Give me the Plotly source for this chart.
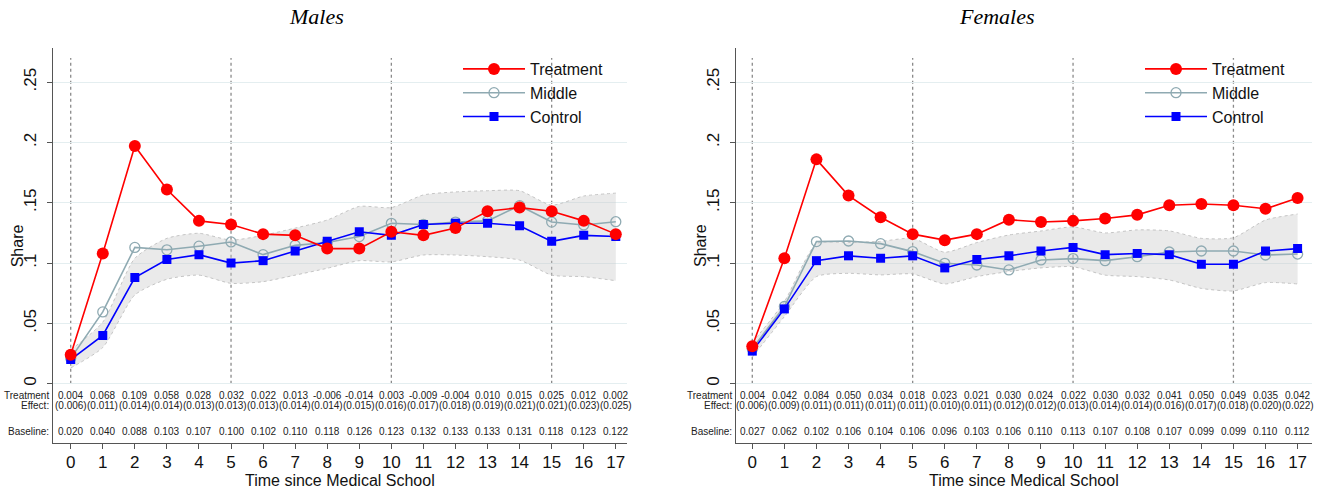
import plotly.graph_objects as go

# ---- data -----------------------------------------------------------------
years = list(range(18))
ref_years = [0, 5, 10, 15]
y_ticks = [0, 0.05, 0.10, 0.15, 0.20, 0.25]
y_tick_text = ["0", ".05", ".1", ".15", ".2", ".25"]

male_effect = [0.004, 0.068, 0.109, 0.058, 0.028, 0.032, 0.022, 0.013, -0.006,
               -0.014, 0.003, -0.009, -0.004, 0.010, 0.015, 0.025, 0.012, 0.002]
male_se = [0.006, 0.011, 0.014, 0.014, 0.013, 0.013, 0.013, 0.014, 0.014,
           0.015, 0.016, 0.017, 0.018, 0.019, 0.021, 0.021, 0.023, 0.025]
male_baseline = [0.020, 0.040, 0.088, 0.103, 0.107, 0.100, 0.102, 0.110, 0.118,
                 0.126, 0.123, 0.132, 0.133, 0.133, 0.131, 0.118, 0.123, 0.122]
male_middle = [0.021, 0.0595, 0.113, 0.111, 0.114, 0.1175, 0.107, 0.1147, 0.117,
               0.122, 0.133, 0.132, 0.134, 0.135, 0.1476, 0.134, 0.1316, 0.1343]
male_band_hi = [0.028, 0.051, 0.104, 0.1205, 0.1247, 0.119, 0.123, 0.129, 0.1357,
                0.147, 0.146, 0.1565, 0.159, 0.160, 0.160, 0.148, 0.1556, 0.158]
male_band_lo = [0.013, 0.030, 0.0736, 0.0866, 0.090, 0.0832, 0.0846, 0.090, 0.0957,
                0.102, 0.101, 0.1067, 0.1067, 0.1053, 0.1025, 0.090, 0.0887, 0.0854]

female_effect = [0.004, 0.042, 0.084, 0.050, 0.034, 0.018, 0.023, 0.021, 0.030,
                 0.024, 0.022, 0.030, 0.032, 0.041, 0.050, 0.049, 0.035, 0.042]
female_se = [0.006, 0.009, 0.011, 0.011, 0.011, 0.011, 0.010, 0.011, 0.012,
             0.012, 0.013, 0.014, 0.014, 0.016, 0.017, 0.018, 0.020, 0.022]
female_baseline = [0.027, 0.062, 0.102, 0.106, 0.104, 0.106, 0.096, 0.103, 0.106,
                   0.110, 0.113, 0.107, 0.108, 0.107, 0.099, 0.099, 0.110, 0.112]
female_middle = [0.029, 0.064, 0.1178, 0.1183, 0.1161, 0.1095, 0.0998, 0.0984, 0.0943,
                 0.1026, 0.1037, 0.102, 0.1053, 0.1092, 0.110, 0.110, 0.1067, 0.1075]
female_band_hi = [0.034, 0.068, 0.116, 0.117, 0.118, 0.1205, 0.109, 0.117, 0.1233,
                  0.1266, 0.130, 0.125, 0.1275, 0.1267, 0.1205, 0.121, 0.1357, 0.1407]
female_band_lo = [0.022, 0.0556, 0.0888, 0.0915, 0.0902, 0.091, 0.0827, 0.0888, 0.093,
                  0.096, 0.097, 0.090, 0.0888, 0.086, 0.079, 0.0769, 0.0838, 0.0827]

panels = [
    dict(title="Males", effect=male_effect, se=male_se, base=male_baseline,
         middle=male_middle, hi=male_band_hi, lo=male_band_lo),
    dict(title="Females", effect=female_effect, se=female_se, base=female_baseline,
         middle=female_middle, hi=female_band_hi, lo=female_band_lo),
]

# ---- styling --------------------------------------------------------------
W, H = 1325, 491
FONT = "Liberation Sans, Arial, sans-serif"
RED, MID, BLUE = "#ff0000", "#8faab2", "#0000ff"
AXIS_COL = "#555555"
GRID_COL = "#e4eef0"

# pixel geometry of each panel: (left, right) of the axes box
x_px = [(53.3, 626.7), (736.0, 1311.7)]
x_ranges = [(-0.543, 17.34), (-0.508, 17.44)]
y_top_px, y_bot_px = 48.3, 443.0
y_range = (-0.0492, 0.2781)
legend_x_px = [458, 1140]
title_x_px = [316, 997]

# rows of the effect table (in data units, below zero)
row_effect, row_se, row_base = -0.0099, -0.0182, -0.0398


def paper_y(px):
    return 1 - px / H


fig = go.Figure()
annotations = []
shapes = []

for i, p in enumerate(panels):
    xa = "x" if i == 0 else "x2"
    ya = "y" if i == 0 else "y2"
    leg = "legend" if i == 0 else "legend2"
    treat = [round(b + e, 3) for b, e in zip(p["base"], p["effect"])]

    # confidence band around the control group
    band_line = dict(color="#c4c4c4", width=1, dash="3px,3px", shape="spline", smoothing=0.6)
    fig.add_trace(go.Scatter(
        x=years, y=p["lo"], xaxis=xa, yaxis=ya, mode="lines", line=band_line,
        showlegend=False, hoverinfo="skip"))
    fig.add_trace(go.Scatter(
        x=years, y=p["hi"], xaxis=xa, yaxis=ya, mode="lines", line=band_line,
        fill="tonexty", fillcolor="rgba(200,200,200,0.38)",
        showlegend=False, hoverinfo="skip"))

    fig.add_trace(go.Scatter(
        x=years, y=p["middle"], xaxis=xa, yaxis=ya, name="Middle", legend=leg,
        legendrank=2, mode="lines+markers",
        line=dict(color=MID, width=1.6),
        marker=dict(symbol="circle-open", size=10, color=MID, line=dict(width=1.3))))
    fig.add_trace(go.Scatter(
        x=years, y=p["base"], xaxis=xa, yaxis=ya, name="Control", legend=leg,
        legendrank=3, mode="lines+markers",
        line=dict(color=BLUE, width=1.6),
        marker=dict(symbol="square", size=9, color=BLUE)))
    fig.add_trace(go.Scatter(
        x=years, y=treat, xaxis=xa, yaxis=ya, name="Treatment", legend=leg,
        legendrank=1, mode="lines+markers",
        line=dict(color=RED, width=1.6),
        marker=dict(symbol="circle", size=12, color=RED)))

    # dashed reference lines
    for ry in ref_years:
        shapes.append(dict(type="line", xref=xa, yref=ya, x0=ry, x1=ry, y0=0, y1=0.27,
                           line=dict(color="#8a8a8a", width=1.3, dash="3px,3px"), layer="below"))

    # effect table under the curves
    cell_font = dict(size=10, color="#222", family=FONT)
    for k, yr in enumerate(years):
        annotations.append(dict(x=yr, y=row_effect, xref=xa, yref=ya, text=f"{p['effect'][k]:.3f}",
                                showarrow=False, font=cell_font))
        annotations.append(dict(x=yr, y=row_se, xref=xa, yref=ya, text=f"({p['se'][k]:.3f})",
                                showarrow=False, font=cell_font))
        annotations.append(dict(x=yr, y=row_base, xref=xa, yref=ya, text=f"{p['base'][k]:.3f}",
                                showarrow=False, font=cell_font))
    lab_x = (x_px[i][0] - 2) / W
    for txt, ry in [("Treatment", row_effect), ("Effect:", row_se), ("Baseline:", row_base)]:
        annotations.append(dict(x=lab_x, y=ry, xref="paper", yref=ya, text=txt,
                                xanchor="right", yanchor="middle",
                                showarrow=False, font=cell_font))

    # panel title, axis titles
    annotations.append(dict(x=title_x_px[i] / W, y=paper_y(17), xref="paper", yref="paper",
                            xanchor="center", yanchor="middle",
                            text=f"<i>{p['title']}</i>", showarrow=False,
                            font=dict(size=22, color="#000", family="Liberation Serif, Times New Roman, serif")))
    annotations.append(dict(x=(x_px[i][0] + x_px[i][1]) / 2 / W, y=paper_y(480), xref="paper", yref="paper",
                            xanchor="center", yanchor="middle",
                            text="Time since Medical School", showarrow=False,
                            font=dict(size=16, color="#111", family=FONT)))
    annotations.append(dict(x=(x_px[i][0] - 35) / W, y=paper_y(246), xref="paper", yref="paper",
                            xanchor="center", yanchor="middle",
                            text="Share", textangle=-90, showarrow=False,
                            font=dict(size=16, color="#111", family=FONT)))

axis_common = dict(showline=True, linecolor=AXIS_COL, linewidth=1.3, ticks="outside",
                   ticklen=5, tickcolor=AXIS_COL, tickwidth=1.2, zeroline=False,
                   tickfont=dict(size=17, color="#111", family=FONT))
layout_axes = {}
for i in range(2):
    sfx = "" if i == 0 else "2"
    layout_axes["xaxis" + sfx] = dict(
        **axis_common, domain=[x_px[i][0] / W, x_px[i][1] / W], range=list(x_ranges[i]),
        tickvals=years, showgrid=False, anchor="y" + sfx, ticklabelstandoff=-2)
    layout_axes["yaxis" + sfx] = dict(
        **axis_common, domain=[paper_y(y_bot_px), paper_y(y_top_px)], range=list(y_range),
        tickvals=y_ticks, ticktext=y_tick_text, tickangle=-90, showgrid=True,
        gridcolor=GRID_COL, gridwidth=1, anchor="x" + sfx, ticklabelstandoff=4)

legend_common = dict(font=dict(size=16, color="#111", family=FONT), bgcolor="rgba(0,0,0,0)",
                     xanchor="left", yanchor="top", itemwidth=62, traceorder="normal",
                     tracegroupgap=0)
fig.update_layout(
    width=W, height=H, margin=dict(l=0, r=0, t=0, b=0),
    paper_bgcolor="white", plot_bgcolor="white",
    font=dict(family=FONT),
    legend=dict(**legend_common, x=legend_x_px[0] / W, y=paper_y(52)),
    legend2=dict(**legend_common, x=legend_x_px[1] / W, y=paper_y(52)),
    annotations=annotations, shapes=shapes, **layout_axes)

fig.write_html("out.html")
